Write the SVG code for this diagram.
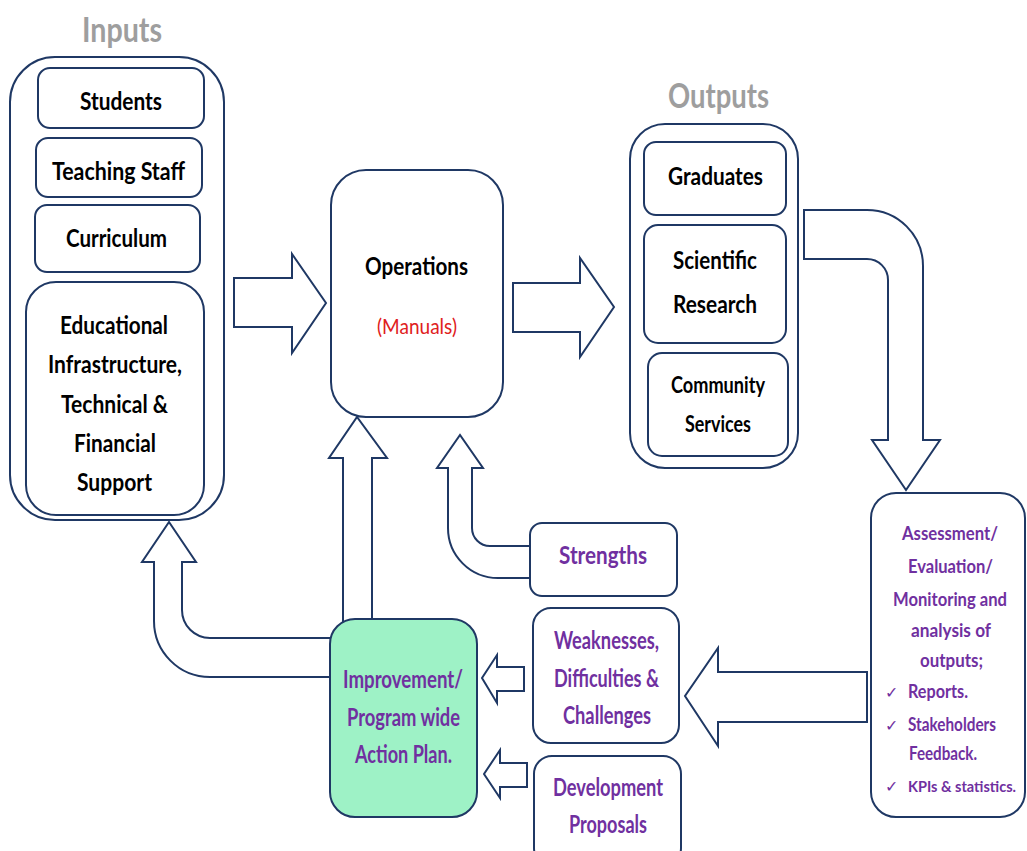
<svg xmlns="http://www.w3.org/2000/svg" width="1027" height="851" viewBox="0 0 1027 851">
<style>
.box{fill:#fff;stroke:#1f3864;stroke-width:2}
.green{fill:#9ef2c6;stroke:#1f3864;stroke-width:2}
.arr{fill:#fff;stroke:#1f3864;stroke-width:2;stroke-linejoin:miter}
text{font-family:Lato,"Liberation Sans",sans-serif;font-weight:bold;text-anchor:middle}
.t{font-size:25px;fill:#000}
.title{font-size:35px;fill:#9e9e9e}
.p{font-size:24px;fill:#7030a0}
.a{font-size:19px;fill:#7030a0}
.al{font-size:19px;fill:#7030a0;text-anchor:start}
.red{font-size:22px;fill:#e02020;font-weight:normal}
</style>
<rect width="1027" height="851" fill="#fff"/>
<g id="connectors">
<path class="arr" d="M234,278 H292 V254 L326,303 L292,353 V327 H234 Z"/>
<path class="arr" d="M513,283 H580 V258 L614,307 L580,357 V332 H513 Z"/>
<path class="arr" d="M804,210 H867 A56,56 0 0 1 923,266 V440 H940 L906,490 L872,440 H888 V280 A21,21 0 0 0 867,259 H804 Z"/>
<path class="arr" d="M867,672 H718 V648 L685,696 L718,746 V722 H867 Z"/>
<path class="arr" d="M524,667 H497 V655 L482,678 L497,703 V691 H524 Z"/>
<path class="arr" d="M527,763 H500 V750 L484,774 L500,798 V787 H527 Z"/>
<path class="arr" d="M343,625 V458 H329 L357,417 L387,458 H372 V625 Z"/>
<path class="arr" d="M530,578 H498 A50,50 0 0 1 448,528 V468 H437 L460,435 L483,468 H472 V528 A18,18 0 0 0 490,546 H530 Z"/>
<path class="arr" d="M334,677 H210 A56,56 0 0 1 154,621 V562 H142 L169,522 L196,562 H182 V610 A28,28 0 0 0 210,638 H334 Z"/>
</g>
<g id="inputs">
<text class="title" x="122" y="42" textLength="80" lengthAdjust="spacingAndGlyphs">Inputs</text>
<rect class="box" x="10" y="57" width="214" height="463" rx="45"/>
</g>
<g id="students">
<rect class="box" x="38" y="68" width="166" height="60" rx="12"/>
<text class="t" x="121" y="110" textLength="82" lengthAdjust="spacingAndGlyphs">Students</text>
</g>
<g id="teaching-staff">
<rect class="box" x="36" y="138" width="166" height="59" rx="12"/>
<text class="t" x="118.5" y="180" textLength="133" lengthAdjust="spacingAndGlyphs">Teaching Staff</text>
</g>
<g id="curriculum">
<rect class="box" x="35" y="205" width="165" height="67" rx="12"/>
<text class="t" x="116.5" y="247" textLength="101" lengthAdjust="spacingAndGlyphs">Curriculum</text>
</g>
<g id="infrastructure">
<rect class="box" x="26" y="282" width="178" height="233" rx="30"/>
<text class="t" x="114" y="334" textLength="108" lengthAdjust="spacingAndGlyphs">Educational</text>
<text class="t" x="115" y="373" textLength="134" lengthAdjust="spacingAndGlyphs">Infrastructure,</text>
<text class="t" x="114.5" y="413" textLength="107" lengthAdjust="spacingAndGlyphs">Technical &amp;</text>
<text class="t" x="115" y="452" textLength="82" lengthAdjust="spacingAndGlyphs">Financial</text>
<text class="t" x="114.5" y="491" textLength="75" lengthAdjust="spacingAndGlyphs">Support</text>
</g>
<g id="operations">
<rect class="box" x="331" y="170" width="172" height="247" rx="35"/>
<text class="t" x="416.5" y="275" textLength="103" lengthAdjust="spacingAndGlyphs">Operations</text>
<text class="red" x="417" y="334" textLength="80" lengthAdjust="spacingAndGlyphs">(Manuals)</text>
</g>
<g id="outputs">
<text class="title" x="718.5" y="108" textLength="101" lengthAdjust="spacingAndGlyphs">Outputs</text>
<rect class="box" x="630" y="124" width="168" height="344" rx="35"/>
</g>
<g id="graduates">
<rect class="box" x="644" y="142" width="142" height="73" rx="12"/>
<text class="t" x="715.5" y="185" textLength="95" lengthAdjust="spacingAndGlyphs">Graduates</text>
</g>
<g id="scientific-research">
<rect class="box" x="644" y="225" width="142" height="118" rx="14"/>
<text class="t" x="715" y="269" textLength="84" lengthAdjust="spacingAndGlyphs">Scientific</text>
<text class="t" x="715" y="313" textLength="84" lengthAdjust="spacingAndGlyphs">Research</text>
</g>
<g id="community-services">
<rect class="box" x="648" y="353" width="140" height="103" rx="14"/>
<text class="t" x="718" y="393" style="font-size:22px" textLength="94" lengthAdjust="spacingAndGlyphs">Community</text>
<text class="t" x="718" y="432" style="font-size:22px" textLength="66" lengthAdjust="spacingAndGlyphs">Services</text>
</g>
<g id="assessment">
<rect class="box" x="871" y="493" width="154" height="324" rx="25"/>
<text class="a" x="950" y="540" textLength="96" lengthAdjust="spacingAndGlyphs">Assessment/</text>
<text class="a" x="950.5" y="573" textLength="85" lengthAdjust="spacingAndGlyphs">Evaluation/</text>
<text class="a" x="950" y="606" textLength="114" lengthAdjust="spacingAndGlyphs">Monitoring and</text>
<text class="a" x="951" y="637" textLength="80" lengthAdjust="spacingAndGlyphs">analysis of</text>
<text class="a" x="951.5" y="667" textLength="63" lengthAdjust="spacingAndGlyphs">outputs;</text>
<text class="al" x="885" y="698" style="font-size:16px;font-weight:normal">✓</text>
<text class="al" x="908" y="698" textLength="60" lengthAdjust="spacingAndGlyphs">Reports.</text>
<text class="al" x="885" y="731" style="font-size:16px;font-weight:normal">✓</text>
<text class="al" x="908" y="731" textLength="88" lengthAdjust="spacingAndGlyphs">Stakeholders</text>
<text class="al" x="909" y="760" textLength="68" lengthAdjust="spacingAndGlyphs">Feedback.</text>
<text class="al" x="885" y="792" style="font-size:16px;font-weight:normal">✓</text>
<text class="al" x="908" y="792" style="font-size:15.5px" textLength="108" lengthAdjust="spacingAndGlyphs">KPIs &amp; statistics.</text>
</g>
<g id="strengths">
<rect class="box" x="530" y="523" width="147" height="73" rx="12"/>
<text class="p" x="603" y="564" textLength="88" lengthAdjust="spacingAndGlyphs">Strengths</text>
</g>
<g id="weaknesses">
<rect class="box" x="533" y="608" width="146" height="135" rx="18"/>
<text class="p" x="606.5" y="649" textLength="105" lengthAdjust="spacingAndGlyphs">Weaknesses,</text>
<text class="p" x="606.5" y="687" textLength="105" lengthAdjust="spacingAndGlyphs">Difficulties &amp;</text>
<text class="p" x="607" y="724" textLength="88" lengthAdjust="spacingAndGlyphs">Challenges</text>
</g>
<g id="development">
<rect class="box" x="534" y="756" width="147" height="110" rx="18"/>
<text class="p" x="608" y="796" textLength="110" lengthAdjust="spacingAndGlyphs">Development</text>
<text class="p" x="608" y="833" textLength="78" lengthAdjust="spacingAndGlyphs">Proposals</text>
</g>
<g id="improvement">
<rect class="green" x="330" y="619" width="147" height="198" rx="25"/>
<text class="p" x="403" y="688" textLength="120" lengthAdjust="spacingAndGlyphs">Improvement/</text>
<text class="p" x="403.5" y="726" textLength="113" lengthAdjust="spacingAndGlyphs">Program wide</text>
<text class="p" x="403.5" y="763" textLength="97" lengthAdjust="spacingAndGlyphs">Action Plan.</text>
</g>
</svg>
